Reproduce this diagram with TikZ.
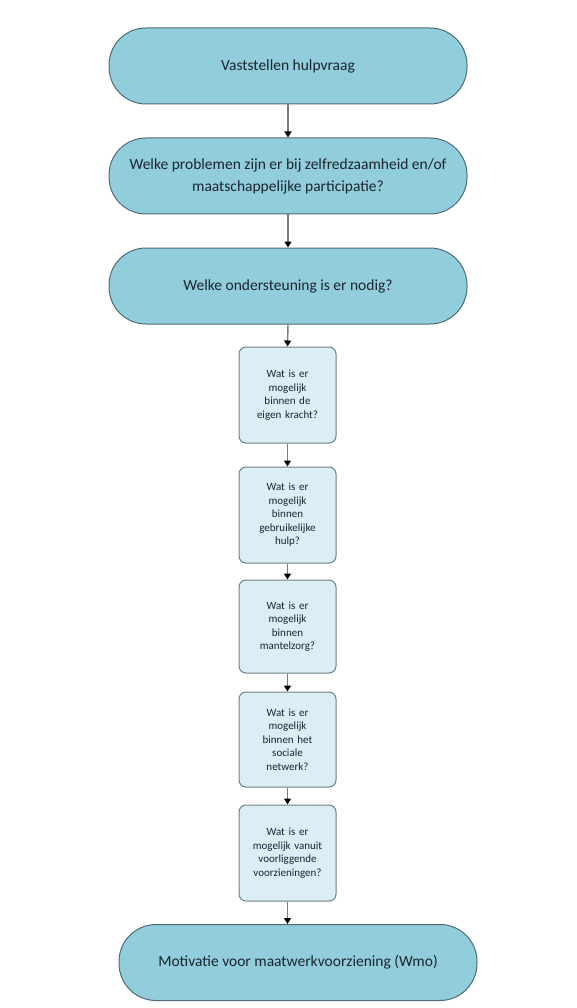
\documentclass[tikz,border=0pt]{standalone}
\usepackage{fontspec}
\setmainfont{Carlito}
\usetikzlibrary{arrows.meta}
\definecolor{bigfill}{HTML}{92CDDC}
\definecolor{bigdraw}{HTML}{4E6B78}
\definecolor{smallfill}{HTML}{DAEEF3}
\definecolor{smalldraw}{HTML}{6F7F88}
\definecolor{txt}{HTML}{1A252D}
\definecolor{linec}{HTML}{7A7A7A}
\tikzset{
  bigbox/.style={draw=bigdraw, line width=1pt, fill=bigfill, rounded corners=37pt,
    minimum width=358pt, minimum height=76pt, align=center, text=txt,
    font=\fontsize{15.5}{22}\selectfont, inner sep=0pt},
  smallbox/.style={draw=smalldraw, line width=1pt, fill=smallfill, rounded corners=7pt,
    minimum width=97pt, minimum height=96pt, align=center, text=txt,
    font=\fontsize{11}{13.5}\selectfont, inner sep=0pt, text width=92pt},
  conn/.style={draw=linec, line width=1.4pt, -{Triangle[length=6pt,width=7pt,fill=black,color=black]}}
}
\begin{document}
\begin{tikzpicture}[x=1pt,y=-1pt]
\useasboundingbox (0,0) rectangle (576,1008);
\node[bigbox] (n1) at (288,66) {Vaststellen hulpvraag};
\node[bigbox] (n2) at (288,176) {Welke problemen zijn er bij zelfredzaamheid en/of\\maatschappelijke participatie?};
\node[bigbox] (n3) at (288,286) {Welke ondersteuning is er nodig?};
\node[smallbox] (a) at (287.5,395) {Wat is er\\mogelijk\\binnen de\\eigen kracht?};
\node[smallbox] (b) at (287.5,515) {Wat is er\\mogelijk\\binnen\\gebruikelijke\\hulp?};
\node[smallbox, minimum height=93pt] (c) at (287.5,626.5) {Wat is er\\mogelijk\\binnen\\mantelzorg?};
\node[smallbox, minimum height=95pt] (d) at (287.5,739.5) {Wat is er\\mogelijk\\binnen het\\sociale\\netwerk?};
\node[smallbox] (e) at (287.5,853) {Wat is er\\mogelijk vanuit\\voorliggende\\voorzieningen?};
\node[bigbox] (n4) at (298,962.5) {Motivatie voor maatwerkvoorziening (Wmo)};
\draw[conn] (n1.south) -- (n2.north);
\draw[conn] (n2.south) -- (n3.north);
\draw[conn] (n3.south) -- (a.north);
\draw[conn] (a.south) -- (b.north);
\draw[conn] (b.south) -- (c.north);
\draw[conn] (c.south) -- (d.north);
\draw[conn] (d.south) -- (e.north);
\draw[conn] (e.south) -- (e.south |- n4.north);
\end{tikzpicture}
\end{document}
